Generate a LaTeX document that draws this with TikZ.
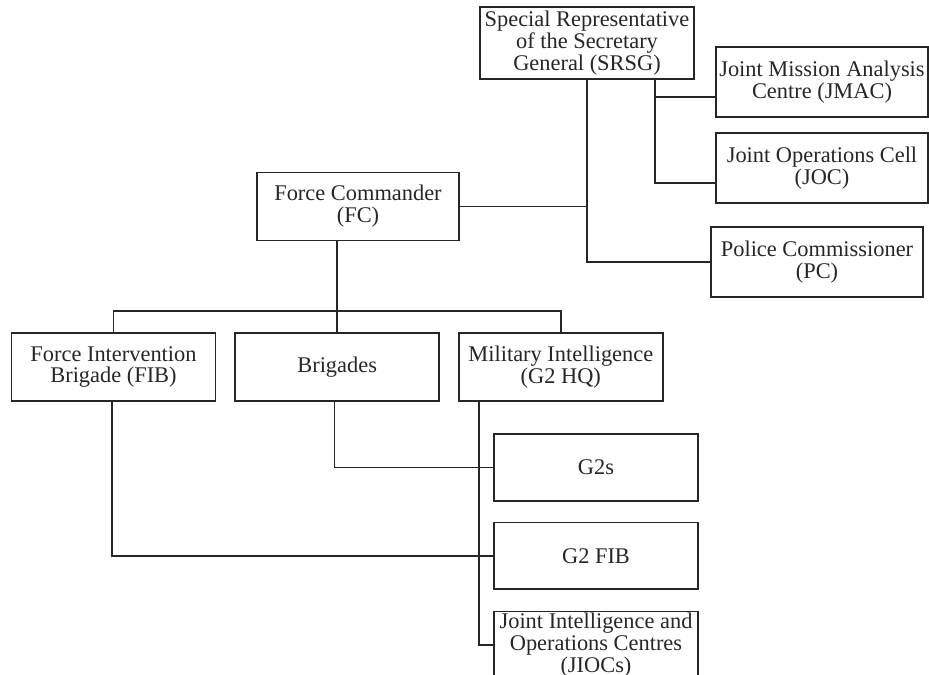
\documentclass[tikz,border=0pt]{standalone}
\usepackage{fontspec}
\setmainfont{Liberation Serif}
\usepackage{tikz}
\usetikzlibrary{positioning}

\begin{document}
\begin{tikzpicture}[x=0.75pt, y=-0.75pt,
    unit/.style={draw=black!85, line width=1.25pt, align=center, inner sep=1pt,
        minimum width=153pt, minimum height=51pt, text=black!85,
        font=\fontsize{16.8}{16.4}\selectfont},
    wide/.style={minimum width=159pt, minimum height=52.5pt},
    link/.style={draw=black!85, line width=1.25pt}]
    \clip (0,0) rectangle (929,675);

    % top of the mission
    \node[unit, minimum width=160.5pt, minimum height=54pt] (srsg) at (587,43)
        {Special Representative\\of the Secretary\\General (SRSG)};
    \node[unit, wide] (jmac) at (822,82) {Joint Mission Analysis\\Centre (JMAC)};
    \node[unit, wide] (joc) at (822,168) {Joint Operations Cell\\(JOC)};
    \node[unit, wide] (pc) at (817,262) {Police Commissioner\\(PC)};
    \node[unit, minimum width=151.5pt] (fc) at (358,206.5) {Force Commander\\(FC)};

    % force level
    \node[unit] (fib) at (113.5,367) {Force Intervention\\Brigade (FIB)};
    \node[unit, right=13.5pt of fib] (brig) {Brigades};
    \node[unit, right=13.5pt of brig] (mi) {Military Intelligence\\(G2 HQ)};

    % intelligence cells
    \node[unit, minimum height=50pt] (g2s) at (596,467.5) {G2s};
    \node[unit, minimum height=50pt, below=15pt of g2s] (g2fib) {G2 FIB};
    \node[unit, minimum height=50pt, below=15.5pt of g2fib] (jioc)
        {Joint Intelligence and\\Operations Centres\\(JIOCs)};

    \coordinate (bus) at (335,311);
    \coordinate (tap) at ([xshift=15.75pt]mi.south west);
    \coordinate (side) at ([xshift=51pt]srsg.south);

    \draw[link] (srsg.south) |- (pc.west);
    \draw[link] (fc.east) -- (srsg |- fc.east);
    \draw[link] (side) |- ([yshift=-11pt]jmac.west);
    \draw[link] (side) |- ([yshift=-11pt]joc.west);

    \draw[link] (brig |- fc.south) -- (brig.north);
    \draw[link] (fib.north) |- (bus) -| (mi.north);

    \draw[link] ([xshift=-2pt]brig.south) |- (g2s.west);
    \draw[link] ([xshift=-1pt]fib.south) |- (g2fib.west);
    \draw[link] (tap) |- (jioc.west);
\end{tikzpicture}
\end{document}
